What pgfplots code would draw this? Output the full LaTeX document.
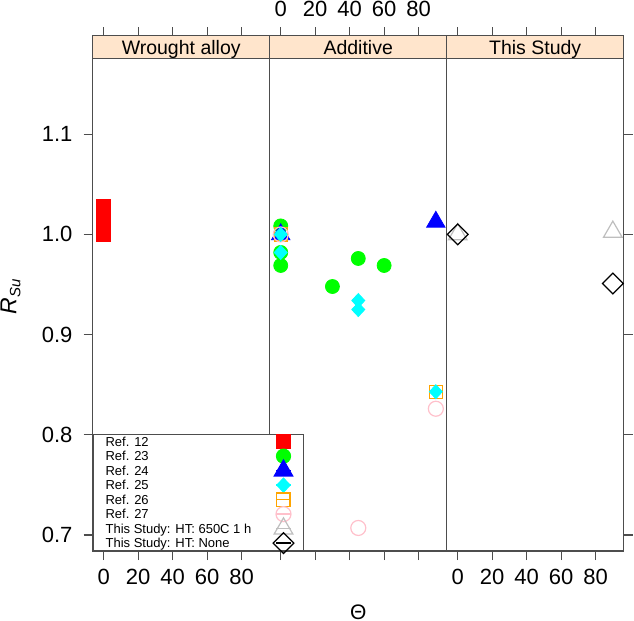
\documentclass[border=0pt]{standalone}
\usepackage{pgfplots}
\pgfplotsset{compat=1.18}
\usepackage{fontspec}
\setmainfont{Liberation Sans}

\definecolor{stripbg}{HTML}{FFE5CC}
\definecolor{frame}{HTML}{4D4D4D}
\definecolor{rgreen}{HTML}{00FF00}
\definecolor{rcyan}{HTML}{00FFFF}
\definecolor{rorange}{HTML}{FFA500}
\definecolor{rpink}{HTML}{FFC0CB}
\definecolor{rgray}{HTML}{BEBEBE}

\newcommand{\tickfont}{\fontsize{11}{13}\selectfont}
\newcommand{\legtxt}[1]{\makebox[85.1pt][l]{#1}}

\pgfplotsset{
  panel/.style={
    scale only axis, width=88.5pt, height=246.35pt,
    xmin=-6.4, xmax=96.3, ymin=0.684, ymax=1.1758,
    anchor=north west, clip=false,
    xtick={0,20,40,60,80}, ytick={0.7,0.8,0.9,1.0,1.1},
    tick align=outside, major tick length=4.5pt,
    axis line style={frame, line width=0.6pt},
    tick style={frame, line width=0.6pt},
    ticklabel style={font=\tickfont},
    /pgf/number format/assume math mode=true,
    xtick pos=left,
    xticklabel style={yshift=-0.8pt},
  },
  rimg/.style={legend image code/.code={%
      \draw[##1, overlay] plot coordinates {(3.55pt,0pt)};
      \path (0pt,-0.1pt) rectangle (7.1pt,0.1pt);}},
  r12/.style={only marks, mark=square*, mark size=3.5pt, color=red, rimg},
  r23/.style={only marks, mark=*, mark size=3.5pt, color=rgreen, rimg},
  r24/.style={only marks, mark=triangle*, mark size=5.3pt, color=blue, rimg},
  r25/.style={only marks, mark=diamond*, mark size=3.5pt, color=rcyan,
    mark options={xscale=1.24}, rimg},
  r26/.style={only marks, mark=square, mark size=3.3pt, color=rorange,
    mark options={line width=0.6pt}, rimg},
  r27/.style={only marks, mark=o, mark size=3.75pt, color=rpink,
    mark options={line width=0.6pt}, rimg},
  ht650/.style={only marks, mark=triangle, mark size=5.4pt, color=rgray,
    mark options={line width=0.6pt}, rimg},
  htnone/.style={only marks, mark=diamond, mark size=5.2pt, color=black,
    mark options={xscale=1.33, line width=0.6pt}, rimg},
}

\begin{document}
\begin{tikzpicture}
% Wrought alloy
\begin{axis}[panel, at={(46.35pt,-29.15pt)},
  ytick pos=left,
  yticklabel style={/pgf/number format/.cd, fixed, fixed zerofill, precision=1,
    /tikz/.cd, xshift=-2.1pt}]
\addplot[r12] coordinates {(0,1.000) (0,1.007) (0,1.014) (0,1.021) (0,1.028)};
\pgfplotsinvokeforeach{0,20,40,60,80}{
  \draw[frame, line width=0.6pt] (axis cs:#1,1.1758) ++(0pt,11.3pt) -- ++(0pt,4.5pt);}
\draw[frame, line width=0.6pt, fill=stripbg] (rel axis cs:0,1) rectangle ([yshift=11.3pt]rel axis cs:1,1);
\node[anchor=base, inner sep=0pt, font=\fontsize{9.75}{11}\selectfont] at ([yshift=2.15pt]rel axis cs:0.5,1) {Wrought alloy};
\end{axis}

% Additive
\begin{axis}[panel, at={(134.85pt,-29.15pt)}, ytick=\empty, xticklabel=\mbox{}]
\addplot[r23] coordinates {(0,1.0085) (0,0.982) (0,0.969) (30,0.948) (45,0.976) (60,0.969)};
\addplot[r24] coordinates {(0,1.000) (90,1.0125)};
\addplot[r26] coordinates {(0,1.000) (90,0.843)};
\addplot[r27] coordinates {(0,1.000) (45,0.707) (90,0.826)};
\addplot[r25] coordinates {(0,1.000) (0,0.982) (45,0.934) (45,0.925) (90,0.843)};
\pgfplotsinvokeforeach{0,20,40,60,80}{
  \draw[frame, line width=0.6pt] (axis cs:#1,1.1758) ++(0pt,11.3pt) -- ++(0pt,4.5pt)
    node[above, inner sep=4.5pt, text=black, font=\tickfont] {#1};}
\draw[frame, line width=0.6pt, fill=stripbg] (rel axis cs:0,1) rectangle ([yshift=11.3pt]rel axis cs:1,1);
\node[anchor=base, inner sep=0pt, font=\fontsize{9.75}{11}\selectfont] at ([yshift=2.15pt]rel axis cs:0.5,1) {Additive};
\end{axis}

% This Study
\begin{axis}[panel, at={(223.35pt,-29.15pt)}, ytick pos=right, yticklabel=\mbox{},
  legend cell align=left, legend plot pos=right,
  legend style={at={(-2,0)}, anchor=south west, draw=frame, line width=0.6pt,
    fill=white, inner xsep=6.15pt, inner ysep=0pt, row sep=0pt, column sep=0pt,
    nodes={inner sep=0pt, text height=5.95pt, text depth=1.3pt,
      font=\fontsize{6.5}{7}\selectfont}}]
\addlegendimage{r12}
\addlegendimage{r23}
\addlegendimage{r24}
\addlegendimage{r25}
\addlegendimage{r26}
\addlegendimage{r27}
\addplot[ht650] coordinates {(0,1.000) (90,1.0025)};
\addplot[htnone] coordinates {(0,1.000) (90,0.951)};
\legend{\legtxt{Ref. 12}, \legtxt{Ref. 23}, \legtxt{Ref. 24}, \legtxt{Ref. 25}, \legtxt{Ref. 26},
  \legtxt{Ref. 27}, \legtxt{This Study: HT: 650C 1 h}, \legtxt{This Study: HT: None}}
\pgfplotsinvokeforeach{0,20,40,60,80}{
  \draw[frame, line width=0.6pt] (axis cs:#1,1.1758) ++(0pt,11.3pt) -- ++(0pt,4.5pt);}
\draw[frame, line width=0.6pt, fill=stripbg] (rel axis cs:0,1) rectangle ([yshift=11.3pt]rel axis cs:1,1);
\node[anchor=base, inner sep=0pt, font=\fontsize{9.75}{11}\selectfont] at ([yshift=2.15pt]rel axis cs:0.5,1) {This Study};
\end{axis}

\node[rotate=90, font=\fontsize{11.5}{13}\selectfont] at (5.25pt,-148.5pt)
  {{\itshape R}\raisebox{-2pt}{\fontsize{7.5}{8}\selectfont\itshape Su}};
\node[font=\fontsize{10.5}{12}\selectfont] at (179.15pt,-306pt) {Θ};

\pgfresetboundingbox
\path (0pt,0pt) rectangle (317pt,-310.5pt);
\end{tikzpicture}
\end{document}
